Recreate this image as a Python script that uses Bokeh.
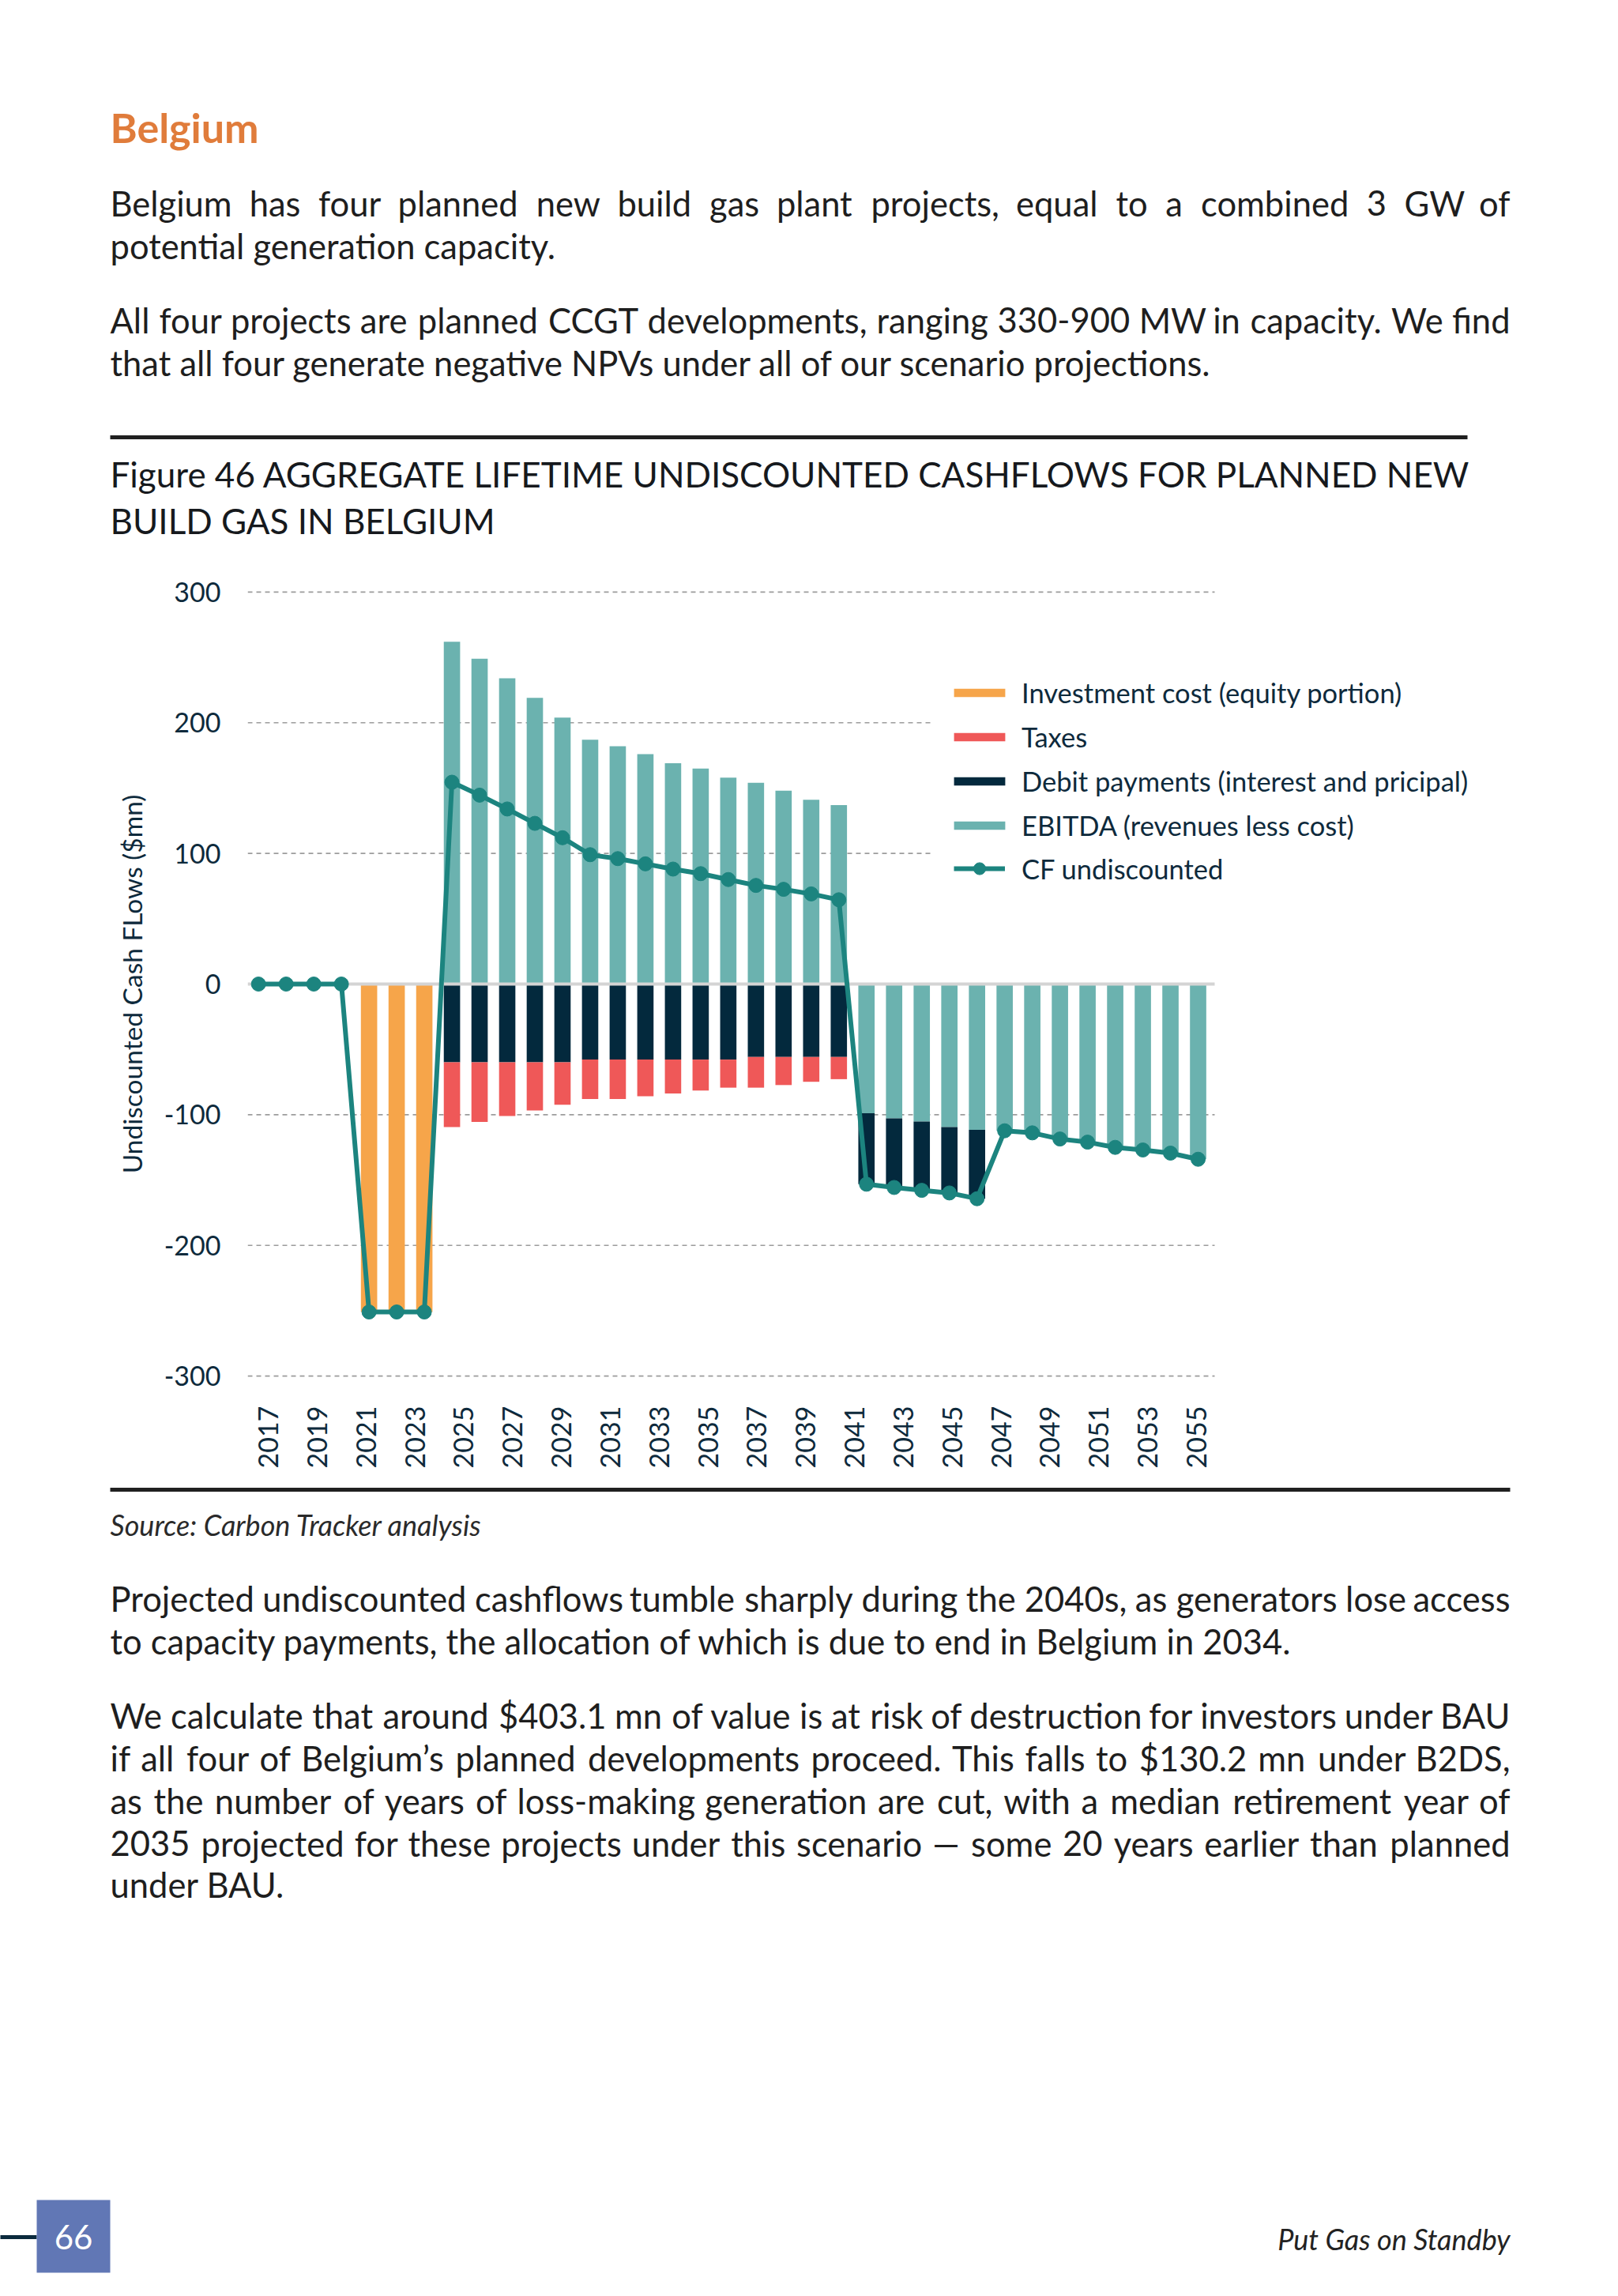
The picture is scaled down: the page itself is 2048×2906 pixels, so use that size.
import numpy as np
from math import pi
from bokeh.plotting import figure
from bokeh.models import Range1d, FixedTicker, Legend, LegendItem, LinearAxis
from bokeh.core.properties import value
from bokeh.embed import file_html
from bokeh.resources import INLINE

# ---------------- chart data ----------------
x_tick_labels = [str(y) for y in range(2017, 2056, 2)]
y_tick_values = [-300, -200, -100, 0, 100, 200, 300]
y_tick_labels = ["-300", "-200", "-100", "0", "100", "200", "300"]

investment = [0, 0, 0, 0, 251, 251, 251] + [0] * 28
ebitda = ([0] * 7
          + [262, 249, 234, 219, 204, 187, 182, 176, 169, 165, 158, 154, 148, 141, 137]
          + [-98.8, -102.8, -105.2, -109.5, -111.5, -112.3, -114.0, -118.6, -121.0, -125.0, -127.0, -129.4, -134.1])
debt = ([0] * 7
        + [59.8] * 5 + [57.8] * 6 + [55.8] * 4
        + [54.4, 52.9, 52.7, 50.4, 52.8] + [0] * 8)
taxes = ([0] * 7
         + [49.7, 45.7, 41.2, 37.0, 32.5, 30.2, 30.2, 28.0, 26.0, 23.7, 21.5, 23.5, 21.5, 19.0, 17.0]
         + [0] * 13)
cf = ([0, 0, 0, 0, -251, -251, -251]
      + [154.5, 144.6, 134.0, 123.0, 112.0, 99.0, 96.0, 92.0, 88.0, 84.5, 80.0, 75.5, 72.5, 69.0, 64.5]
      + [-153.2, -155.7, -157.9, -159.9, -164.3, -112.3, -113.9, -118.6, -121.0, -125.0, -127.0, -129.4, -134.1])

legend_labels = ["Investment cost (equity portion)", "Taxes",
                 "Debit payments (interest and pricipal)", "EBITDA (revenues less cost)",
                 "CF undiscounted"]

# ---------------- page text ----------------
heading = "Belgium"
para1 = ["Belgium has four planned new build gas plant projects, equal to a combined 3 GW of",
         "potential generation capacity."]
para2 = ["All four projects are planned CCGT developments, ranging 330-900 MW in capacity. We find",
         "that all four generate negative NPVs under all of our scenario projections."]
fig_title = ["Figure 46 AGGREGATE LIFETIME UNDISCOUNTED CASHFLOWS FOR PLANNED NEW",
             "BUILD GAS IN BELGIUM"]
source = "Source: Carbon Tracker analysis"
para3 = ["Projected undiscounted cashflows tumble sharply during the 2040s, as generators lose access",
         "to capacity payments, the allocation of which is due to end in Belgium in 2034."]
para4 = ["We calculate that around $403.1 mn of value is at risk of destruction for investors under BAU",
         "if all four of Belgium\u2019s planned developments proceed. This falls to $130.2 mn under B2DS,",
         "as the number of years of loss-making generation are cut, with a median retirement year of",
         "2035 projected for these projects under this scenario \u2014 some 20 years earlier than planned",
         "under BAU."]
page_no = "66"
footer = "Put Gas on Standby"

# ---------------- styles ----------------
FONT = "Lato"
C_ORANGE = "#F6A54A"
C_RED = "#EF5858"
C_NAVY = "#03293D"
C_TEAL = "#6BB2AF"
C_LINE = "#1C847F"
C_TXT = "#0E2A3C"
C_BODY = "#1E1E1E"
BODY = 43.5
K = 1.0

W = {' ': .26, 'a': .51, 'b': .56, 'c': .46, 'd': .56, 'e': .52, 'f': .31, 'g': .50, 'h': .56,
     'i': .24, 'j': .24, 'k': .49, 'l': .24, 'm': .84, 'n': .56, 'o': .56, 'p': .56, 'q': .56,
     'r': .36, 's': .42, 't': .36, 'u': .56, 'v': .50, 'w': .76, 'x': .49, 'y': .50, 'z': .45,
     'A': .66, 'B': .63, 'C': .66, 'D': .73, 'E': .55, 'F': .52, 'G': .71, 'H': .74, 'I': .28,
     'J': .38, 'K': .63, 'L': .49, 'M': .88, 'N': .74, 'O': .78, 'P': .59, 'Q': .78, 'R': .61,
     'S': .54, 'T': .57, 'U': .71, 'V': .65, 'W': .98, 'X': .63, 'Y': .60, 'Z': .60,
     ',': .22, '.': .22, '-': .35, '$': .58, '(': .3, ')': .3, '\u2019': .2, ':': .22, '\u2014': .8}


def est(s, size):
    return sum(W.get(ch, .58) for ch in s) * size * K


# ---------------- geometry (canvas pixels) ----------------
CW, CHH = 2040, 2898
F_L, F_R, F_T, F_B = 313, 2000, 739, 1751
PX0, PXU = 326.7, 34.98          # x of first period, px per period
LX0, LXU = 339.0, 61.84          # x of first tick label, px per label

p = figure(width=CW, height=CHH,
           x_range=Range1d((F_L - PX0) / PXU, (F_R - PX0) / PXU),
           y_range=Range1d(-306, 306), x_axis_type=None,
           output_backend="svg", toolbar_location=None,
           min_border_left=F_L, min_border_right=CW - F_R,
           min_border_top=F_T, min_border_bottom=CHH - F_B)
p.outline_line_color = None
p.ygrid.visible = False
p.background_fill_color = "white"
p.border_fill_color = "white"
p.extra_x_ranges = {"px": Range1d(F_L, F_R), "lab": Range1d((F_L - LX0) / LXU, (F_R - LX0) / LXU)}
p.extra_y_ranges = {"py": Range1d(F_B, F_T)}

PG = dict(x_range_name="px", y_range_name="py", level="overlay")


def txt(xs, ys, texts, size, color=C_BODY, style="normal", align="left"):
    p.text(x=xs, y=ys, text=texts, text_font=value(FONT), text_font_size=f"{size}px",
           text_color=color, text_font_style=style, text_align=align, text_baseline="middle", **PG)


def justified(line, y, x0=139, x1=1911, size=BODY):
    words = line.split(" ")
    ws = [est(w, size) for w in words]
    gap = (x1 - x0 - sum(ws)) / (len(words) - 1)
    xs, x = [], x0
    for w in ws:
        xs.append(x)
        x += w + gap
    txt(xs[:-1], [y] * (len(words) - 1), words[:-1], size)
    txt([x1], [y], [words[-1]], size, align="right")


# ---------------- header ----------------
txt([139], [160], [heading], 52, color="#E07C3B", style="bold")
justified(para1[0], 256)
txt([139], [310], [para1[1]], BODY)
justified(para2[0], 404)
txt([139], [458], [para2[1]], BODY)
p.segment(x0=[139], y0=[553], x1=[1857], y1=[553], line_width=5, line_color="#202020", **PG)
txt([139, 139], [599, 658], fig_title, 44, color="#16191D")

# ---------------- chart ----------------
n = len(cf)
idx = np.arange(n)
eb = np.array(ebitda, float)
db = np.array(debt, float)
tx = np.array(taxes, float)
inv = np.array(investment, float)

teal_top, teal_bot = np.maximum(eb, 0), np.minimum(eb, 0)
dark_top, dark_bot = teal_bot, teal_bot - db
red_top, red_bot = dark_bot, dark_bot - tx

gx0 = (F_L - PX0) / PXU
grid_vals = [v for v in y_tick_values if v != 0]
grid_end = [(1177 - PX0) / PXU if v in (100, 200) else (1537 - PX0) / PXU for v in grid_vals]
p.segment(x0=[gx0] * len(grid_vals), y0=grid_vals, x1=grid_end, y1=grid_vals,
          line_color="#9C9C9C", line_width=1.6, line_dash="6 5")

BW = 0.59
m = eb != 0
r_teal = p.vbar(x=idx[m], top=teal_top[m], bottom=teal_bot[m], width=BW, fill_color=C_TEAL, line_color=None)
m = db != 0
r_dark = p.vbar(x=idx[m], top=dark_top[m], bottom=dark_bot[m], width=BW, fill_color=C_NAVY, line_color=None)
m = tx != 0
r_red = p.vbar(x=idx[m], top=red_top[m], bottom=red_bot[m], width=BW, fill_color=C_RED, line_color=None)
m = inv != 0
r_or = p.vbar(x=idx[m], top=0, bottom=-inv[m], width=BW, fill_color=C_ORANGE, line_color=None)

p.segment(x0=[gx0], y0=[0], x1=[(1537 - PX0) / PXU], y1=[0], line_color="#D4D4D4", line_width=4)

r_line = p.line(idx, cf, line_color=C_LINE, line_width=6)
r_pts = p.scatter(idx, cf, size=18, fill_color=C_LINE, line_color=C_LINE)

yax = p.yaxis[0]
yax.ticker = FixedTicker(ticks=y_tick_values)
yax.major_label_overrides = dict(zip(y_tick_values, y_tick_labels))
yax.axis_line_color = None
yax.major_tick_line_color = None
yax.minor_tick_line_color = None
yax.major_label_standoff = 28
yax.major_label_text_font = FONT
yax.major_label_text_font_size = "34px"
yax.major_label_text_color = C_TXT
yax.axis_label = "Undiscounted Cash FLows ($mn)"
yax.axis_label_text_font = FONT
yax.axis_label_text_font_size = "33.5px"
yax.axis_label_text_font_style = "normal"
yax.axis_label_text_color = C_TXT
yax.axis_label_standoff = 18

xax = LinearAxis(x_range_name="lab", ticker=FixedTicker(ticks=list(range(len(x_tick_labels)))),
                 major_label_overrides={i: s for i, s in enumerate(x_tick_labels)},
                 major_label_orientation=pi / 2, axis_line_color=None,
                 major_tick_line_color=None, minor_tick_line_color=None,
                 major_label_standoff=22, major_label_text_font=FONT,
                 major_label_text_font_size="34px", major_label_text_color=C_TXT)
p.add_layout(xax, "below")

LEG = dict(orientation="vertical", background_fill_color="white", background_fill_alpha=1.0,
           border_line_color=None, label_text_font=FONT, label_text_font_size="34.5px",
           label_text_color=C_TXT, spacing=14, padding=10, margin=0, label_height=42)
legend1 = Legend(items=[LegendItem(label=legend_labels[0], renderers=[r_or]),
                        LegendItem(label=legend_labels[1], renderers=[r_red]),
                        LegendItem(label=legend_labels[2], renderers=[r_dark]),
                        LegendItem(label=legend_labels[3], renderers=[r_teal])],
                 location=(1199 - F_L, F_B - 1065), glyph_width=81, glyph_height=13,
                 label_standoff=13, **LEG)
legend2 = Legend(items=[LegendItem(label=legend_labels[4], renderers=[r_line, r_pts])],
                 location=(1207 - F_L, F_B - 1120), glyph_width=65, glyph_height=38,
                 label_standoff=21, **LEG)
p.add_layout(legend1)
p.add_layout(legend2)

# ---------------- footer ----------------
p.segment(x0=[139], y0=[1885], x1=[1911], y1=[1885], line_width=5, line_color="#202020", **PG)
txt([139], [1929], [source], 36, color="#2A2A2A", style="italic")
justified(para3[0], 2022)
txt([139], [2076], [para3[1]], BODY)
ys4 = [2170, 2224, 2278, 2332, 2384]
for line, y in zip(para4[:-1], ys4[:-1]):
    justified(line, y)
txt([139], [ys4[-1]], [para4[-1]], BODY)
p.segment(x0=[0], y0=[2831], x1=[46], y1=[2831], line_width=5, line_color="#0B2A3D", **PG)
p.quad(left=[46], right=[139], top=[2784], bottom=[2876], fill_color="#6177B5", line_color=None, **PG)
txt([92.5], [2831], [page_no], 42, color="white", align="center")
txt([1911], [2833], [footer], 36, color="#222222", style="italic", align="right")

open("out.html", "w").write(file_html(p, INLINE))
